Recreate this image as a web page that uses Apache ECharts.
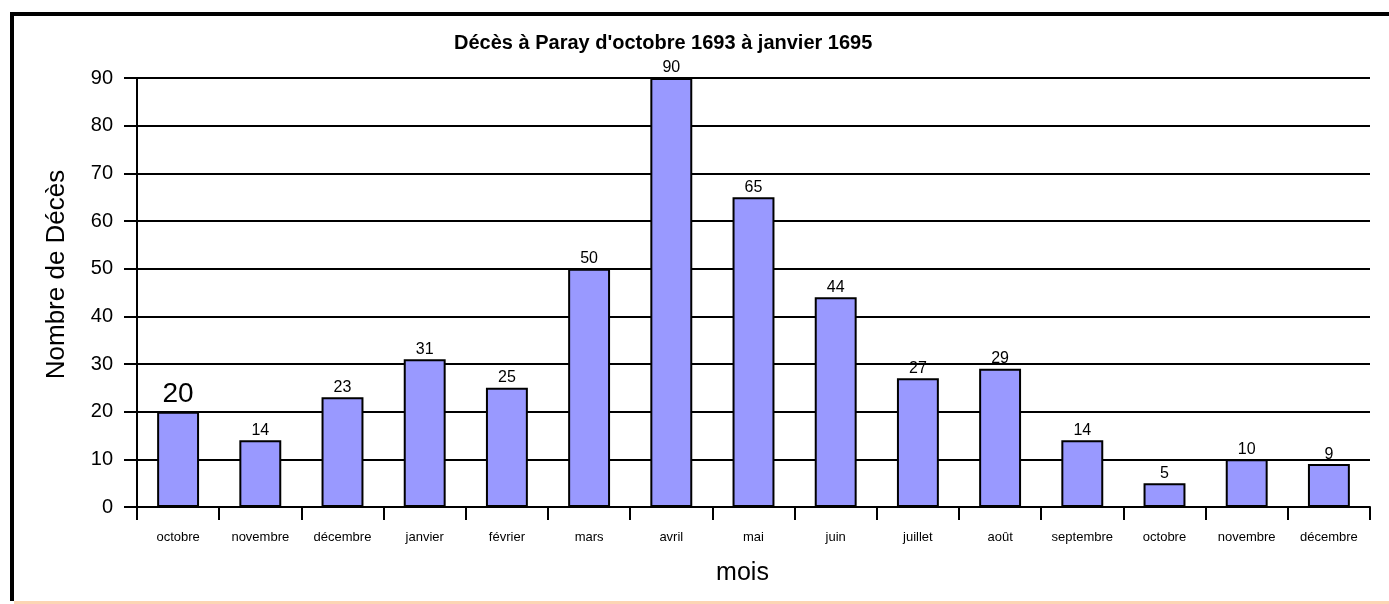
<!DOCTYPE html>
<html>
<head>
<meta charset="utf-8">
<script src="https://cdn.jsdelivr.net/npm/echarts@6/dist/echarts.min.js"></script>
<style>
html,body{margin:0;padding:0;background:#fff;}
#c{width:1389px;height:604px;}
</style>
</head>
<body>
<div id="c"></div>
<script>
var titleText = "Décès à Paray d'octobre 1693 à janvier 1695";
var categories = ["octobre","novembre","décembre","janvier","février","mars","avril","mai","juin","juillet","août","septembre","octobre","novembre","décembre"];
var deaths = [20,14,23,31,25,50,90,65,44,27,29,14,5,10,9];
var yTicks = {min:0, max:90, interval:10};
var yName = "Nombre de Décès";
var xName = "mois";

var FONT = "'Liberation Sans', Arial, sans-serif";
var chart = echarts.init(document.getElementById('c'), null, {renderer:'canvas'});

var seriesData = deaths.map(function(v, i){
  var d = {value: v};
  if (i === 0) d.label = {fontSize: 28, distance: 3};
  return d;
});

chart.setOption({
  backgroundColor: '#ffffff',
  animation: false,
  title: {
    text: titleText,
    left: 449, top: 28,
    textStyle: {fontFamily: FONT, fontWeight: 'bold', fontSize: 20, color: '#000'}
  },
  grid: {left: 137, right: 19, top: 78, bottom: 97, containLabel: false},
  xAxis: {
    type: 'category',
    data: categories,
    name: xName,
    nameLocation: 'middle',
    nameGap: 54,
    nameTextStyle: {fontFamily: FONT, fontSize: 25, color: '#000', padding: [0, 22, 0, 0]},
    axisLine: {show: true, lineStyle: {color: '#000', width: 2}},
    axisTick: {show: true, length: 13, lineStyle: {color: '#000', width: 2}},
    axisLabel: {fontFamily: FONT, fontSize: 13, color: '#000', margin: 24, interval: 0},
    splitLine: {show: false}
  },
  yAxis: {
    type: 'value',
    min: yTicks.min, max: yTicks.max, interval: yTicks.interval,
    name: yName,
    nameLocation: 'middle',
    nameGap: 67,
    nameRotate: 90,
    nameTextStyle: {fontFamily: FONT, fontSize: 26, color: '#000', padding: [0, 0, 0, 36]},
    axisLine: {show: true, lineStyle: {color: '#000', width: 2}},
    axisTick: {show: true, length: 13, lineStyle: {color: '#000', width: 2}},
    axisLabel: {fontFamily: FONT, fontSize: 20, color: '#000', margin: 24},
    splitLine: {show: true, lineStyle: {color: '#000', width: 2}}
  },
  series: [{
    type: 'bar',
    data: seriesData,
    barWidth: '51%',
    itemStyle: {color: '#9999ff', borderColor: '#000', borderWidth: 2},
    label: {show: true, position: 'top', distance: 2, fontFamily: FONT, fontSize: 16, color: '#000'},
    z: 3
  }],
  graphic: [
    {type: 'rect', shape: {x: 10, y: 12, width: 4, height: 589}, style: {fill: '#000'}, z: 100},
    {type: 'rect', shape: {x: 10, y: 12, width: 1379, height: 4}, style: {fill: '#000'}, z: 100},
    {type: 'rect', shape: {x: 14, y: 601, width: 1375, height: 3}, style: {fill: '#fcd5b4'}, z: 100}
  ]
});
</script>
</body>
</html>
